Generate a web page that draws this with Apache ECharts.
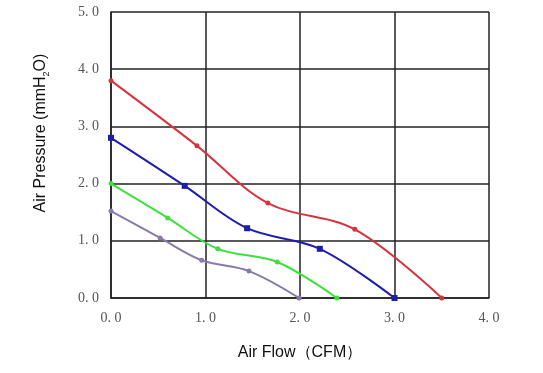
<!DOCTYPE html>
<html><head><meta charset="utf-8">
<script src="https://cdn.jsdelivr.net/npm/echarts@6/dist/echarts.min.js"></script>
<style>html,body{margin:0;padding:0;background:#fff}#c{width:543px;height:373px}</style>
</head><body><div id="c"></div>
<script>
var xTicks = [0, 1, 2, 3, 4];
var yTicks = [0, 1, 2, 3, 4, 5];
var redFlow = [0, 0.91, 1.66, 2.58, 3.5];
var redPressure = [3.8, 2.66, 1.66, 1.2, 0];
var blueFlow = [0, 0.78, 1.44, 2.21, 3.0];
var bluePressure = [2.8, 1.96, 1.22, 0.86, 0];
var greenFlow = [0, 0.6, 1.13, 1.76, 2.39];
var greenPressure = [2.0, 1.4, 0.86, 0.63, 0];
var purpleFlow = [0, 0.52, 0.96, 1.46, 1.99];
var purplePressure = [1.52, 1.05, 0.66, 0.47, 0];

function zip(a, b) { return a.map(function (v, i) { return [v, b[i]]; }); }
function fmt(v) { return v.toFixed(1).replace('.', '. '); }

var chart = echarts.init(document.getElementById('c'));
var tickFont = { fontFamily: '"Liberation Serif", serif', fontSize: 14, color: '#555' };
function mk(name, color, fx, fy, sym, size) {
  return {
    name: name, type: 'line', smooth: 0.35, data: zip(fx, fy),
    symbol: sym, symbolSize: size, showSymbol: true,
    lineStyle: { color: color, width: 2 }, itemStyle: { color: color },
    z: 3
  };
}
var sans = '"Liberation Sans", Arial, sans-serif';
chart.setOption({
  animation: false,
  grid: { left: 111, right: 54, top: 12, bottom: 75 },
  graphic: [{
    type: 'text', x: 41, y: 133, rotation: Math.PI / 2,
    style: {
      text: '{a|Air Pressure (mmH}{s|2}{a|O)}', align: 'center', verticalAlign: 'middle',
      rich: {
        a: { fontFamily: sans, fontSize: 16, fill: '#111', lineHeight: 20 },
        s: { fontFamily: sans, fontSize: 9, fill: '#111', verticalAlign: 'bottom', lineHeight: 14 }
      }
    }
  }],
  xAxis: {
    type: 'value', min: xTicks[0], max: xTicks[xTicks.length - 1], interval: 1,
    name: 'Air Flow（CFM）', nameLocation: 'middle', nameGap: 47,
    nameTextStyle: { fontFamily: sans, fontSize: 16, color: '#111' },
    axisLine: { show: true, lineStyle: { color: '#222', width: 1.5 } },
    axisTick: { show: false },
    axisLabel: Object.assign({ margin: 13, formatter: fmt }, tickFont),
    splitLine: { show: true, lineStyle: { color: '#222', width: 1.5 } }
  },
  yAxis: {
    type: 'value', min: yTicks[0], max: yTicks[yTicks.length - 1], interval: 1,
    axisLine: { show: true, lineStyle: { color: '#222', width: 1.5 } },
    axisTick: { show: false },
    axisLabel: Object.assign({ margin: 12, formatter: fmt }, tickFont),
    splitLine: { show: true, lineStyle: { color: '#222', width: 1.5 } }
  },
  series: [
    mk('red', '#d8323e', redFlow, redPressure, 'circle', 5),
    mk('blue', '#1c1cae', blueFlow, bluePressure, 'rect', 6),
    mk('green', '#3ee03e', greenFlow, greenPressure, 'circle', 5),
    mk('purple', '#8a7aa8', purpleFlow, purplePressure, 'circle', 5)
  ]
});
</script></body></html>
